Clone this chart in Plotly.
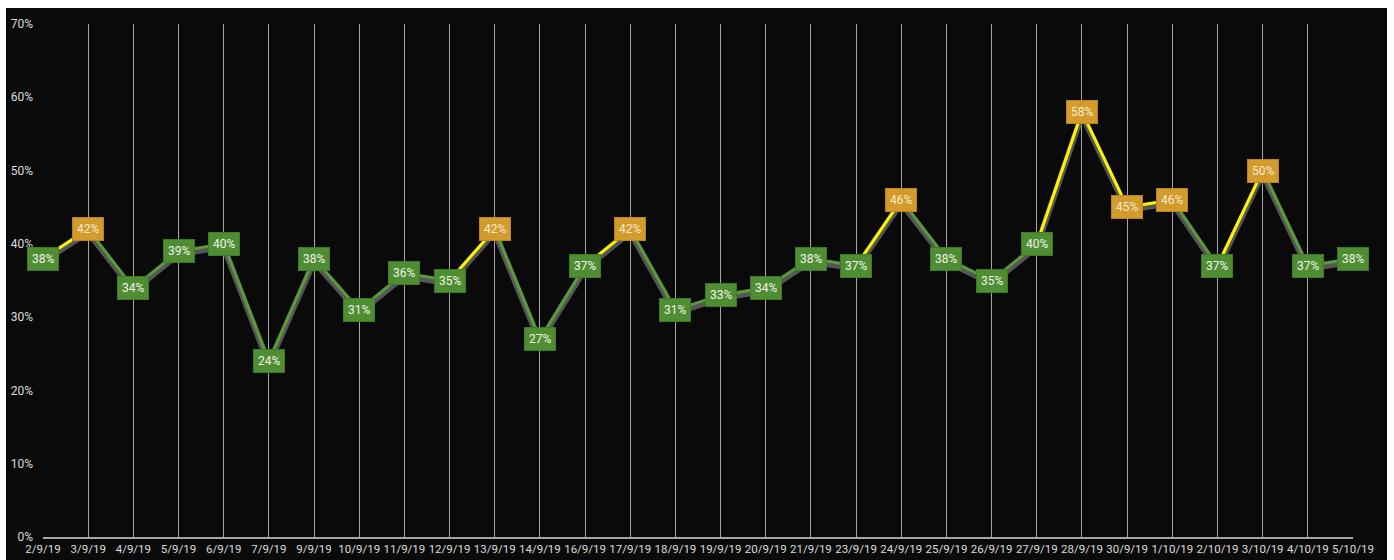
import plotly.graph_objects as go

# Daily rate, 2 Sep 2019 – 5 Oct 2019
dates = ["2/9/19", "3/9/19", "4/9/19", "5/9/19", "6/9/19", "7/9/19", "9/9/19",
         "10/9/19", "11/9/19", "12/9/19", "13/9/19", "14/9/19", "16/9/19",
         "17/9/19", "18/9/19", "19/9/19", "20/9/19", "21/9/19", "23/9/19",
         "24/9/19", "25/9/19", "26/9/19", "27/9/19", "28/9/19", "30/9/19",
         "1/10/19", "2/10/19", "3/10/19", "4/10/19", "5/10/19"]
rates = [38, 42, 34, 39, 40, 24, 38, 31, 36, 35, 42, 27, 37, 42, 31, 33, 34,
         38, 37, 46, 38, 35, 40, 58, 45, 46, 37, 50, 37, 38]
threshold = 40
y_ticks = [0, 10, 20, 30, 40, 50, 60, 70]
y_tick_text = [f"{v}%" for v in y_ticks]

W, H = 1394, 560
L, R, T, B = 43, 41, 24, 23
plot_w, plot_h = W - L - R, H - T - B

BG = "#0a0a0a"
GREEN_LINE = "#5a9a3a"
GREEN_BOX = "#4f8d33"
YELLOW_LINE = "#fff200"
ORANGE_BOX = "#d39a2c"
SHADOW = "rgba(100,100,100,0.85)"
TEXT = "#dcdcdc"

fig = go.Figure()

# invisible carrier so the percentage axis is drawn
fig.add_trace(go.Scatter(
    x=dates, y=rates, mode="lines", line=dict(width=0), opacity=0,
    hoverinfo="skip", showlegend=False,
))

# soft grey shadow drawn a few pixels below the main line
fig.add_trace(go.Scatter(
    x=dates, y=rates, mode="lines", yaxis="y2",
    line=dict(color=SHADOW, width=6), hoverinfo="skip", showlegend=False,
))

# main green line
fig.add_trace(go.Scatter(
    x=dates, y=rates, mode="lines", yaxis="y3",
    line=dict(color=GREEN_LINE, width=3), hoverinfo="skip", showlegend=False,
))

# yellow segments leading into points above the threshold
seg_x, seg_y = [], []
for i in range(1, len(rates)):
    if rates[i] > threshold:
        seg_x += [dates[i - 1], dates[i], dates[i]]
        seg_y += [rates[i - 1], rates[i], None]
fig.add_trace(go.Scatter(
    x=seg_x, y=seg_y, mode="lines", yaxis="y3", connectgaps=False,
    line=dict(color=YELLOW_LINE, width=3), hoverinfo="skip", showlegend=False,
))

# boxed value labels on each point
for d, v in zip(dates, rates):
    high = v > threshold
    fig.add_annotation(
        x=d, y=v, text=f"{v}%", showarrow=False,
        font=dict(family="Roboto", size=12, color="#f5ecd2" if high else "#eef5e8"),
        bgcolor=ORANGE_BOX if high else GREEN_BOX,
        bordercolor="#b98421" if high else "#3f7a28", borderwidth=1, borderpad=4,
    )

# dark chart area inside a thin white frame
fig.add_shape(
    type="rect", xref="paper", yref="paper", layer="below",
    x0=(6 - L) / plot_w, x1=(1387 - L) / plot_w,
    y0=-(B + 5) / plot_h, y1=(H - B - 8) / plot_h,
    fillcolor=BG, line=dict(width=0),
)

shadow_shift = 3 * 70 / plot_h

fig.update_layout(
    width=W, height=H,
    margin=dict(l=L, r=R, t=T, b=B),
    paper_bgcolor="white",
    plot_bgcolor="rgba(0,0,0,0)",
    font=dict(family="Roboto", color=TEXT),
    xaxis=dict(
        type="category", categoryorder="array", categoryarray=dates,
        range=[0, len(dates) - 1], automargin=False,
        showgrid=True, gridcolor="#a6a6a6", gridwidth=1,
        showline=True, linecolor="#a6a6a6", linewidth=2,
        ticks="", tickangle=0, tickfont=dict(size=11.5, color=TEXT),
        zeroline=False, fixedrange=True,
    ),
    yaxis=dict(
        range=[0, 70], tickmode="array", tickvals=y_ticks, ticktext=y_tick_text,
        automargin=False, ticklabelstandoff=9,
        showgrid=False, zeroline=False, showline=False,
        tickfont=dict(size=12, color=TEXT), fixedrange=True,
    ),
    yaxis2=dict(
        overlaying="y", range=[shadow_shift, 70 + shadow_shift],
        visible=False, fixedrange=True,
    ),
    yaxis3=dict(
        overlaying="y", range=[0, 70], visible=False, fixedrange=True,
    ),
)

fig.write_html("out.html")
